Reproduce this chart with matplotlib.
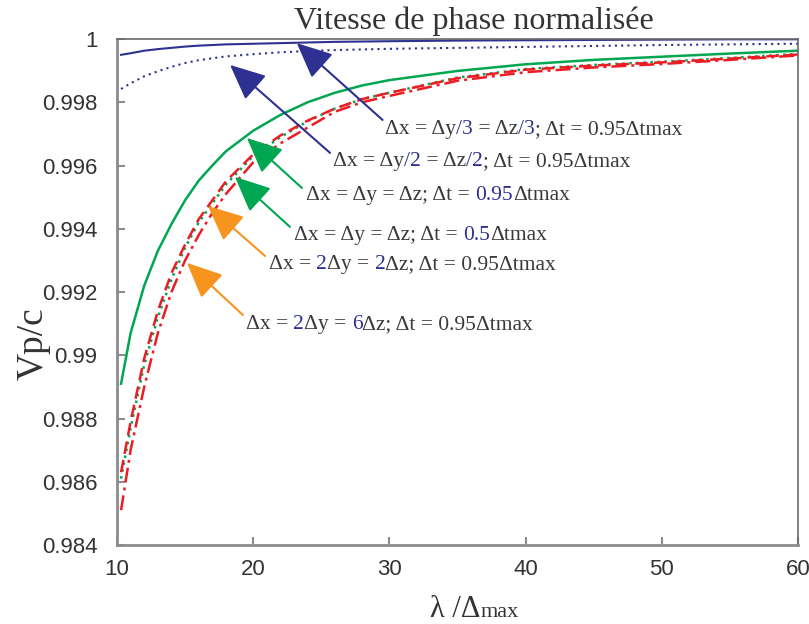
import matplotlib
matplotlib.use("Agg")
import matplotlib.pyplot as plt
from matplotlib.font_manager import FontProperties
from matplotlib.ticker import FuncFormatter, MultipleLocator
from matplotlib.transforms import IdentityTransform

# wavelength in cells (lambda / Delta max)
lam = [10.3, 11, 12, 13, 14, 15, 16, 17, 18, 20, 22, 24, 26, 28, 30,
       35, 40, 45, 50, 55, 60]

# normalised phase velocity Vp/c
vp_y3 = [0.99950, 0.99955, 0.99963, 0.99968, 0.99972, 0.99976, 0.99979,
         0.99981, 0.99983, 0.99985, 0.99987, 0.99989, 0.99991, 0.99992,
         0.99993, 0.99995, 0.99996, 0.99997, 0.99998, 0.99999, 0.99999]
vp_y2 = [0.99842, 0.99860, 0.99882, 0.99898, 0.99912, 0.99924, 0.99933,
         0.99939, 0.99945, 0.99952, 0.99958, 0.99962, 0.99965, 0.99967,
         0.99969, 0.99972, 0.99975, 0.99978, 0.99981, 0.99983, 0.99985]
vp_eq_095 = [0.9891, 0.9907, 0.9922, 0.9933, 0.99415, 0.9949, 0.99552,
             0.9960, 0.99645, 0.9971, 0.9976, 0.9980, 0.99830, 0.99853,
             0.99870, 0.99899, 0.99920, 0.99934, 0.99944, 0.99954, 0.99963]
vp_eq_05 = [0.9861, 0.9877, 0.9897, 0.9912, 0.9924, 0.9934, 0.9942,
            0.9948, 0.9954, 0.9963, 0.9969, 0.9974, 0.9978, 0.9981,
            0.9983, 0.99878, 0.99905, 0.99918, 0.99928, 0.99940, 0.99953]
vp_2x2 = [0.9863, 0.9879, 0.9899, 0.9914, 0.9926, 0.9935, 0.9943,
          0.9949, 0.9955, 0.99635, 0.99695, 0.99742, 0.99780, 0.99810,
          0.99830, 0.99876, 0.99903, 0.99916, 0.99926, 0.99938, 0.99951]
vp_2x6 = [0.9851, 0.9870, 0.9890, 0.9907, 0.9920, 0.9930, 0.9938,
          0.9945, 0.9951, 0.9961, 0.9967, 0.9972, 0.9977, 0.9980,
          0.9982, 0.99868, 0.99895, 0.99910, 0.99921, 0.99934, 0.99948]

NAVY = "#2e3192"
GREEN = "#00a651"
RED = "#ed1c24"
ORANGE = "#f7941d"
GREY = "#3a3a3a"

# annotation labels: list of (text, colour) pieces
labels = [
    [("Δx = Δy", GREY), ("/3", NAVY), (" = Δz", GREY), ("/3", NAVY),
     ("; Δt = 0.95Δtmax", GREY)],
    [("Δx = Δy", GREY), ("/2", NAVY), (" = Δz", GREY), ("/2", NAVY),
     ("; Δt = 0.95Δtmax", GREY)],
    [("Δx = Δy = Δz; Δt = ", GREY), ("0.95", NAVY), ("Δtmax", GREY)],
    [("Δx = Δy = Δz; Δt = ", GREY), ("0.5", NAVY), ("Δtmax", GREY)],
    [("Δx = ", GREY), ("2", NAVY), ("Δy = ", GREY), ("2", NAVY),
     ("Δz; Δt = 0.95Δtmax", GREY)],
    [("Δx = ", GREY), ("2", NAVY), ("Δy = ", GREY), ("6", NAVY),
     ("Δz; Δt = 0.95Δtmax", GREY)],
]
arrow_tips = [(23.2, 0.99987), (18.3, 0.99918), (19.54, 0.99687),
              (18.66, 0.99564), (16.68, 0.99472), (15.14, 0.99292)]
arrow_tails = [(29.5, 0.99744), (25.64, 0.99640), (23.58, 0.99529),
               (22.70, 0.99406), (20.87, 0.99314), (19.25, 0.99127)]
label_pos = [(29.68, 0.99700), (25.86, 0.99598), (23.88, 0.99490),
             (23.0, 0.99364), (21.16, 0.99272), (19.47, 0.99082)]
arrow_colors = [NAVY, NAVY, GREEN, GREEN, ORANGE, ORANGE]

SERIF = "Liberation Serif"


def text_width(s, prop, renderer):
    """Advance width of s in pixels (the bar keeps trailing spaces counted)."""
    w = renderer.get_text_width_height_descent(s + "|", prop, ismath=False)[0]
    w0 = renderer.get_text_width_height_descent("|", prop, ismath=False)[0]
    return w - w0


def rich_text(fig, x, y, pieces, renderer):
    """Draw coloured pieces one after another from display point (x, y)."""
    for text, color, size in pieces:
        prop = FontProperties(family=SERIF, size=size)
        fig.text(x, y, text, color=color, fontproperties=prop,
                 transform=IdentityTransform(), ha="left", va="baseline")
        x += text_width(text, prop, renderer)


fig = plt.figure(figsize=(8.09, 6.24), dpi=100)
ax = fig.add_axes([0.1446, 0.1266, 0.8418, 0.8109])

ax.plot(lam, vp_y3, color=NAVY, lw=1.5)
ax.plot(lam, vp_y2, color=NAVY, lw=1.5, ls=(0, (1, 2)))
ax.plot(lam, vp_eq_095, color=GREEN, lw=1.8)
ax.plot(lam, vp_eq_05, color=GREEN, lw=1.8, ls=(0, (1, 1.8)))
ax.plot(lam, vp_2x2, color=RED, lw=1.8, ls=(0, (5, 2.5)))
ax.plot(lam, vp_2x6, color=RED, lw=1.8, ls=(0, (6, 2, 1.2, 2)))

ax.set_xlim(10, 60)
ax.set_ylim(0.984, 1.0)
ax.xaxis.set_major_locator(MultipleLocator(10))
ax.yaxis.set_major_locator(MultipleLocator(0.002))
ax.yaxis.set_major_formatter(FuncFormatter(lambda v, p: f"{v:.3f}".rstrip("0").rstrip(".")))

for side in ["left", "bottom"]:
    ax.spines[side].set_color("#8c8c8c")
    ax.spines[side].set_linewidth(2)
for side in ["top", "right"]:
    ax.spines[side].set_color("#6a6a6a")
    ax.spines[side].set_linewidth(1.2)
ax.tick_params(direction="in", length=6, width=1.5, color="#8c8c8c",
               labelsize=16, labelcolor="#333333")
ax.tick_params(axis="y", pad=14)
ax.tick_params(axis="x", pad=10)
for lab in ax.get_xticklabels() + ax.get_yticklabels():
    lab.set_family("Liberation Sans")

fig.text(0.586, 0.966, "Vitesse de phase normalisée", family=SERIF,
         fontsize=23, color="#333333", ha="center", va="center")
fig.text(0.041, 0.45, "Vp/c", family=SERIF, fontsize=27, color="#333333",
         rotation=90, ha="center", va="center")

for tip, tail, col in zip(arrow_tips, arrow_tails, arrow_colors):
    ax.annotate("", xy=tip, xytext=tail,
                arrowprops=dict(arrowstyle="-|>,head_length=1.1,head_width=0.5",
                                mutation_scale=20, color=col, lw=1.5,
                                shrinkA=0, shrinkB=0))

renderer = fig.canvas.get_renderer()
for pos, pieces in zip(label_pos, labels):
    x, y = ax.transData.transform(pos)
    rich_text(fig, x, y, [(t, c, 15.5) for t, c in pieces], renderer)

# x axis label: lambda / Delta max, with a smaller "max"
x_lab = [("λ /Δ", "#333333", 22), ("max", "#333333", 16)]
rich_text(fig, 430, 624 - 617, x_lab, renderer)

fig.savefig("out.png", dpi=100)
